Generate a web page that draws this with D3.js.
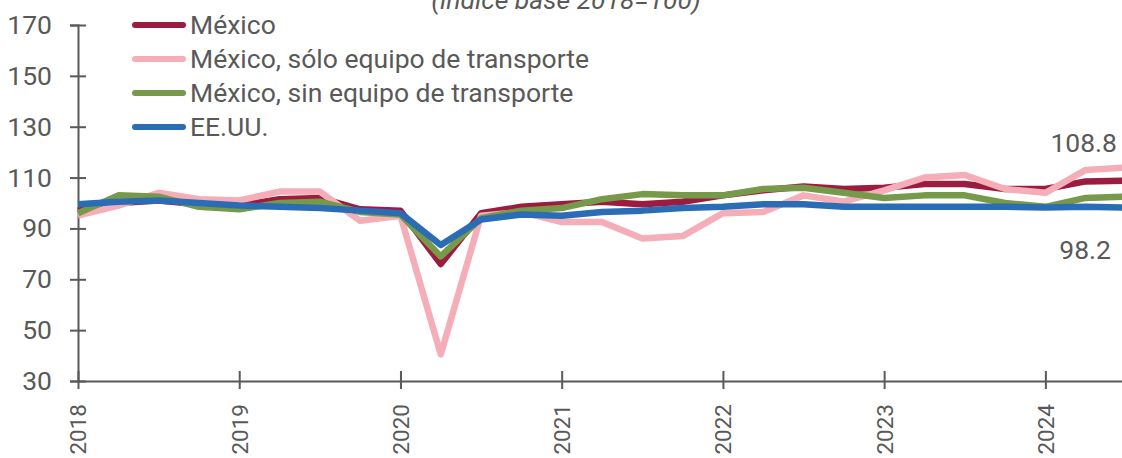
<!DOCTYPE html>
<html>
<head>
<meta charset="utf-8">
<script src="https://cdn.jsdelivr.net/npm/d3@7"></script>
<style>
  body { margin: 0; background: #fff; }
  svg { display: block; font-family: Roboto, sans-serif; }
</style>
</head>
<body>
<div id="container"></div>
<script>
const w = 1122;
const h = 458;
const m = {left: 78, top: 25, right: -4, bottom: 77};
const fontSize = 26.5;

// quarterly, 2018 Q1 .. 2024 Q3
const quarters = d3.range(27).map(i => 2018 + i / 4);
const mexico = [97, 100, 101, 99.5, 99, 101.5, 102, 97.5, 97, 76, 96, 98.5, 99.5, 100.5, 99.5, 100.5, 103, 105, 106.5, 105.5, 106, 107.5, 107.5, 105.5, 105.5, 108.5, 108.8];
const soloTransporte = [95, 99, 104, 101.5, 101, 104.5, 104.5, 93, 95, 40.5, 95, 96.5, 92.5, 92.5, 86, 87, 96, 96.5, 103, 100.5, 105, 110, 111, 105.5, 104, 113, 114];
const sinTransporte = [96, 103, 102.5, 98.5, 97.5, 100, 100.5, 96.5, 95.5, 79, 94, 97, 98, 101.5, 103.5, 103, 103, 105.5, 106, 104, 102, 103, 103, 100, 98.5, 102, 102.5];
const eeuu = [99.5, 100.5, 101, 100, 99, 98.5, 98, 97, 96, 83.5, 93.5, 95.5, 95, 96.5, 97, 98, 98.5, 99.5, 99.5, 98.5, 98.5, 98.5, 98.5, 98.5, 98.2, 98.5, 98.2];
const seriesNames = ['México', 'México, sólo equipo de transporte', 'México, sin equipo de transporte', 'EE.UU.'];
const colors = ['#9c1c40', '#f5adb8', '#76994a', '#2b6db5'];
const yTicks = [30, 50, 70, 90, 110, 130, 150, 170];
const xTicks = [2018, 2019, 2020, 2021, 2022, 2023, 2024];
const title = '(índice base 2018=100)';

const series = [mexico, soloTransporte, sinTransporte, eeuu].map((v, i) => ({
  name: seriesNames[i], color: colors[i], values: v
}));

const svg = d3.select('#container')
  .append('svg')
  .attr('width', w)
  .attr('height', h);

const x = d3.scaleLinear()
  .domain([2018, 2024.5])
  .range([m.left, w - m.right]);

const y = d3.scaleLinear()
  .domain([30, 170])
  .range([h - m.bottom, m.top]);

const textColor = '#595959';

// title (cut at top, as in the source)
svg.append('text')
  .attr('x', 566)
  .attr('y', 9)
  .attr('text-anchor', 'middle')
  .attr('font-size', fontSize)
  .attr('font-style', 'italic')
  .attr('fill', textColor)
  .text(title);

// y axis
const yAxis = svg.append('g')
  .attr('transform', 'translate(' + m.left + ',0)')
  .call(d3.axisLeft(y).tickValues(yTicks).tickSize(8).tickPadding(18));
yAxis.selectAll('.tick line').attr('x1', -8).attr('x2', 8);

// x axis
const xAxis = svg.append('g')
  .attr('transform', 'translate(0,' + y(30) + ')')
  .call(d3.axisBottom(x).tickValues(xTicks).tickFormat(d3.format('d')).tickSizeOuter(0));
xAxis.selectAll('.tick line').attr('y1', -10).attr('y2', 8);

[yAxis, xAxis].forEach(a => {
  a.select('.domain').attr('stroke', textColor).attr('stroke-width', 2);
  a.selectAll('.tick line').attr('stroke', textColor).attr('stroke-width', 2);
  a.selectAll('.tick text').attr('fill', textColor).attr('font-size', fontSize).attr('font-family', 'Roboto, sans-serif');
});

xAxis.selectAll('.tick text')
  .attr('transform', 'rotate(-90)')
  .attr('x', -23)
  .attr('y', 0)
  .attr('dy', '0.35em')
  .attr('font-size', 22.5)
  .attr('text-anchor', 'end');

// lines
const line = d3.line()
  .x((d, i) => x(quarters[i]))
  .y(d => y(d));

svg.append('g')
  .selectAll('path')
  .data(series)
  .join('path')
    .attr('fill', 'none')
    .attr('stroke', d => d.color)
    .attr('stroke-width', 6.5)
    .attr('stroke-linejoin', 'round')
    .attr('d', d => line(d.values));

// end labels
const last = quarters.length - 1;
svg.append('text')
  .attr('x', 1117)
  .attr('y', y(mexico[last]) - 29)
  .attr('text-anchor', 'end')
  .attr('font-size', fontSize)
  .attr('fill', textColor)
  .text(mexico[last].toFixed(1));
svg.append('text')
  .attr('x', 1111)
  .attr('y', y(eeuu[last]) + 51)
  .attr('text-anchor', 'end')
  .attr('font-size', fontSize)
  .attr('fill', textColor)
  .text(eeuu[last].toFixed(1));

// legend
const legend = svg.append('g')
  .attr('transform', 'translate(133,25)');
const items = legend.selectAll('g')
  .data(series)
  .join('g')
    .attr('transform', (d, i) => 'translate(0,' + i * 34 + ')');
items.append('line')
  .attr('x1', 2).attr('x2', 50)
  .attr('stroke', d => d.color)
  .attr('stroke-width', 6)
  .attr('stroke-linecap', 'round');
items.append('text')
  .attr('x', 57)
  .attr('dy', '0.35em')
  .attr('font-size', fontSize)
  .attr('fill', textColor)
  .text(d => d.name);
</script>
</body>
</html>
